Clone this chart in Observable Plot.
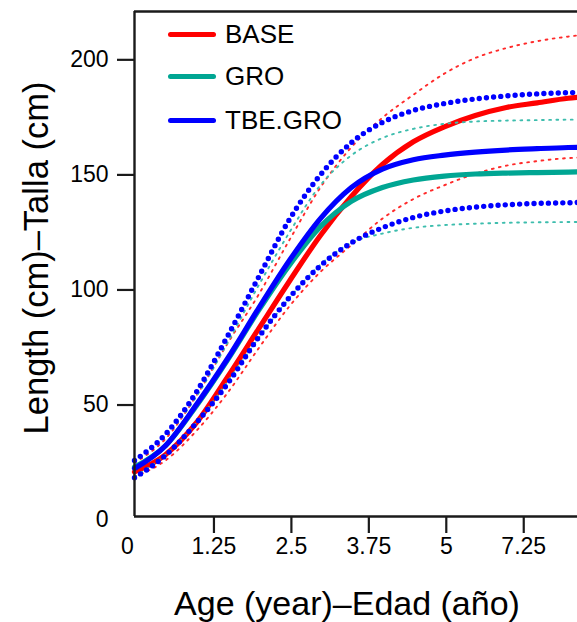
<!DOCTYPE html>
<html>
<head>
<meta charset="utf-8">
<script src="https://cdn.jsdelivr.net/npm/d3@7"></script>
<script src="https://cdn.jsdelivr.net/npm/@observablehq/plot@0.6"></script>
<style>
  html, body { margin: 0; padding: 0; background: #fff; }
  #wrap { position: relative; width: 577px; height: 622px; overflow: hidden; font-family: "Liberation Sans", Arial, sans-serif; }
  #wrap svg { display: block; }
  .leg { position: absolute; left: 168px; height: 30px; display: flex; align-items: center; font-size: 26px; color: #000; white-space: nowrap; }
  .leg .sw { width: 48px; height: 5px; border-radius: 2.5px; margin-right: 9px; }
</style>
</head>
<body>
<div id="wrap"></div>
<script>
// ---- data ----
const age = [0, 0.5, 1, 1.5, 2, 2.5, 3, 3.5, 4, 4.5, 5, 5.5, 6, 6.5, 7, 7.15];

const baseMean = [20.9, 28.4, 42.3, 62.1, 83.0, 103.8, 123.7, 140.6, 154.5, 164.4, 170.9, 175.8, 179.3, 181.3, 183.3, 183.7];
const baseHigh = [24.9, 35.3, 54.1, 76.7, 97.8, 121.7, 144.5, 162.0, 174.8, 184.8, 194.0, 200.8, 205.1, 208.1, 210.1, 210.6];
const baseLow  = [18.9, 25.9, 38.8, 55.2, 74.5, 92.9, 107.8, 119.5, 131.0, 139.5, 145.5, 150.5, 154.0, 156.0, 157.3, 157.5];

const groMean  = [23.0, 32.3, 49.7, 69.5, 91.0, 110.8, 127.5, 138.5, 144.5, 147.8, 149.5, 150.4, 150.8, 151.0, 151.2, 151.3];
const groHigh  = [25.4, 36.3, 53.7, 77.0, 101.8, 125.0, 145.5, 158.5, 166.0, 170.0, 172.2, 173.2, 173.6, 173.8, 174.0, 174.0];
const groLow   = [18.9, 28.4, 42.3, 60.1, 79.0, 96.5, 111.0, 120.5, 124.5, 127.0, 128.2, 128.8, 129.2, 129.4, 129.5, 129.5];

const tbeMean  = [22.4, 32.3, 50.2, 70.1, 91.9, 112.8, 131.0, 144.5, 152.5, 156.6, 158.6, 159.9, 160.8, 161.4, 161.9, 162.0];
const tbeHigh  = [25.9, 37.3, 55.7, 79.8, 105.4, 130.6, 150.0, 164.0, 172.8, 178.0, 181.0, 183.0, 184.3, 185.2, 185.7, 185.8];
const tbeLow   = [18.4, 28.1, 42.3, 59.2, 79.3, 96.7, 110.5, 120.5, 127.0, 131.5, 134.3, 136.0, 137.0, 137.6, 137.9, 138.0];

const seriesNames = ["BASE", "GRO", "TBE.GRO"];
const seriesColors = ["#ff0000", "#00a693", "#0000ff"];

const xTickValues = [1.25, 2.5, 3.75, 5, 6.25];
const xTickLabels = ["1.25", "2.5", "3.75", "5", "7.25"];
const yTickValues = [50, 100, 150, 200];
const xDomain = [0, 7.15];
const yDomain = [1.56, 221];

const xTitle = "Age (year)\u2013Edad (año)";
const yTitle = "Length (cm)\u2013Talla (cm)";

// ---- helpers ----
const rows = arr => age.map((a, i) => ({age: a, len: arr[i]}));
const xLabelMap = new Map(xTickValues.map((v, i) => [v, xTickLabels[i]]));

const meanStyle = c => ({x: "age", y: "len", stroke: c, strokeWidth: 5.2, curve: "monotone-x"});
const smallDots = c => ({x: "age", y: "len", stroke: c, strokeWidth: 1.9, strokeDasharray: "1.8,5.4", curve: "monotone-x"});
const bigDots = c => ({x: "age", y: "len", stroke: c, strokeWidth: 5.4, strokeDasharray: "0,7.2", strokeLinecap: "round", curve: "monotone-x"});

const axisColor = "#1a1a1a";

const chart = Plot.plot({
  width: 577,
  height: 622,
  marginLeft: 134,
  marginRight: 0,
  marginTop: 11,
  marginBottom: 106,
  x: {domain: xDomain},
  y: {domain: yDomain},
  style: {fontFamily: "'Liberation Sans', Arial, sans-serif", background: "#fff", color: "#000", overflow: "visible"},
  marks: [
    // BASE
    Plot.line(rows(baseHigh), smallDots("#ff2a2a")),
    Plot.line(rows(baseLow), smallDots("#ff2a2a")),
    Plot.line(rows(baseMean), meanStyle(seriesColors[0])),
    // GRO
    Plot.line(rows(groHigh), smallDots("#3dbdad")),
    Plot.line(rows(groLow), smallDots("#3dbdad")),
    Plot.line(rows(groMean), meanStyle(seriesColors[1])),
    // TBE.GRO
    Plot.line(rows(tbeHigh), bigDots(seriesColors[2])),
    Plot.line(rows(tbeLow), bigDots(seriesColors[2])),
    Plot.line(rows(tbeMean), meanStyle(seriesColors[2])),
    // frame (left, top, bottom)
    Plot.ruleX([xDomain[0]], {stroke: axisColor, strokeWidth: 2.4}),
    Plot.ruleY([yDomain[0], yDomain[1]], {stroke: axisColor, strokeWidth: 2.4}),
    // axes
    Plot.axisX(xTickValues, {tickFormat: d => xLabelMap.get(d), tickSize: 17, tickPadding: 4, fontSize: 23, stroke: axisColor, strokeWidth: 2.2, dx: 2, label: null}),
    Plot.axisY(yTickValues, {tickSize: 17, tickPadding: 9, fontSize: 23, stroke: axisColor, strokeWidth: 2.2, label: null}),
    Plot.text(["0"], {x: 0, frameAnchor: "bottom", dy: 21, dx: -7, lineAnchor: "top", fontSize: 23, fill: "#000"}),
    Plot.text(["0"], {y: 0, frameAnchor: "left", dx: -26, textAnchor: "end", lineAnchor: "middle", fontSize: 23, fill: "#000"}),
    // axis titles
    Plot.text([xTitle], {frameAnchor: "bottom", dy: 88, dx: -9, textAnchor: "middle", lineAnchor: "middle", fontSize: 34, fill: "#000"}),
    Plot.text([yTitle], {frameAnchor: "left", dx: -98, dy: -6, rotate: -90, textAnchor: "middle", lineAnchor: "middle", fontSize: 34.5, fill: "#000"})
  ]
});

const wrap = document.getElementById("wrap");
wrap.appendChild(chart);

// legend overlay (inside the plot, top-left)
const legendTops = [34, 76, 120];
seriesNames.forEach((name, i) => {
  const row = document.createElement("div");
  row.className = "leg";
  row.style.top = (legendTops[i] - 15) + "px";
  const sw = document.createElement("div");
  sw.className = "sw";
  sw.style.background = seriesColors[i];
  const tx = document.createElement("span");
  tx.textContent = name;
  row.appendChild(sw);
  row.appendChild(tx);
  wrap.appendChild(row);
});
</script>
</body>
</html>
